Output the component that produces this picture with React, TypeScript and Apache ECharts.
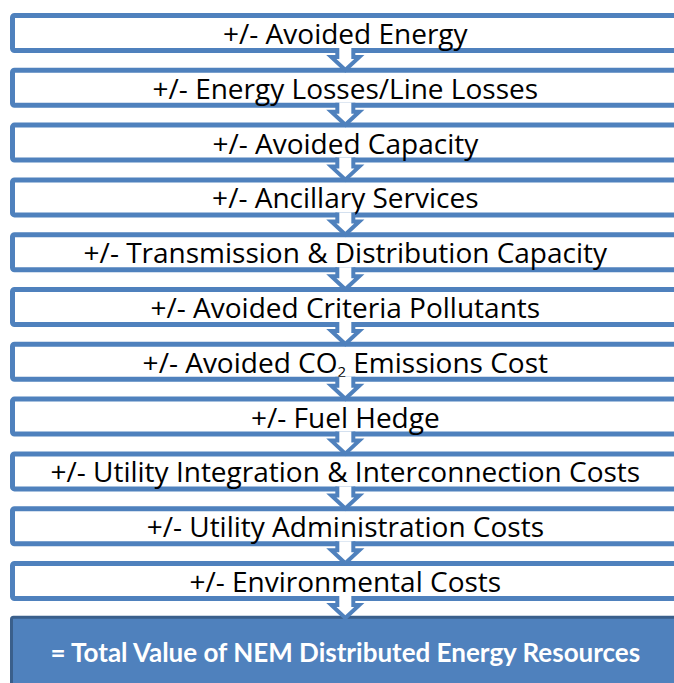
import React, { useEffect, useRef } from "react";
import * as echarts from "echarts";

const stepLabels: string[] = [
  "+/- Avoided Energy",
  "+/- Energy Losses/Line Losses",
  "+/- Avoided Capacity",
  "+/- Ancillary Services",
  "+/- Transmission & Distribution Capacity",
  "+/- Avoided Criteria Pollutants",
  "+/- Avoided CO{s|2} Emissions Cost",
  "+/- Fuel Hedge",
  "+/- Utility Integration & Interconnection Costs",
  "+/- Utility Administration Costs",
  "+/- Environmental Costs",
];
const totalLabel: string = "= Total Value of NEM Distributed Energy Resources";
const allLabels: string[] = [...stepLabels, totalLabel];
const rowIndex: number[] = allLabels.map((_, i) => i);

const BLUE = "#4f81bd";
const DARK = "#3a5f8b";
const FONT = "'Open Sans', Lato, sans-serif";
const BOLD_FONT = "Lato, 'Open Sans', sans-serif";

export default function App() {
  const ref = useRef<HTMLDivElement>(null);
  useEffect(() => {
    if (!ref.current) return;
    const chart = echarts.init(ref.current, undefined, { renderer: "svg" });
    const nSteps = stepLabels.length;
    chart.setOption({
      animation: false,
      backgroundColor: "#ffffff",
      grid: { left: 10, top: 13, right: 0, height: 657.6 },
      xAxis: { type: "value", min: 0, max: 1, show: false },
      yAxis: { type: "value", min: 0, max: 12, inverse: true, show: false },
      series: [
        {
          type: "custom",
          data: rowIndex.map((i) => [i]),
          encode: { x: -1, y: 0 },
          clip: false,
          renderItem: (params: any, api: any) => {
            const i = api.value(0) as number;
            const tl = api.coord([0, i]);
            const br = api.coord([1.01, i + 1]);
            const x0 = tl[0];
            const y0 = tl[1];
            const w = br[0] - x0;
            const cx = x0 + w / 2;
            const isTotal = i === nSteps;
            const h = isTotal ? 74 : 40;
            const sw = isTotal ? 3 : 5;
            const children: any[] = [
              {
                type: "rect",
                shape: { x: x0 + sw / 2, y: y0 + sw / 2, width: w - sw, height: h - sw, r: 2 },
                style: {
                  fill: isTotal ? BLUE : "#ffffff",
                  stroke: isTotal ? DARK : BLUE,
                  lineWidth: sw,
                },
              },
            ];
            if (i > 0) {
              const yb = api.coord([0, i - 1])[1] + 40;
              const pts = [
                [-8, -5],
                [-8, 4],
                [-14, 4],
                [0, 17],
                [14, 4],
                [8, 4],
                [8, -5],
              ].map((p) => [cx + p[0], yb + p[1]]);
              children.push({
                type: "polygon",
                shape: { points: pts },
                style: { fill: "#ffffff", stroke: "none" },
              });
              children.push({
                type: "polyline",
                shape: { points: pts },
                style: { stroke: BLUE, lineWidth: 4, fill: "none", lineJoin: "miter" },
              });
            }
            children.push({
              type: "text",
              x: cx,
              y: y0 + (isTotal ? 36 : 20),
              style: {
                text: allLabels[i],
                fill: isTotal ? "#ffffff" : "#000000",
                fontFamily: isTotal ? BOLD_FONT : FONT,
                fontSize: isTotal ? 26 : 28,
                fontWeight: isTotal ? "bold" : "normal",
                lineHeight: 34,
                align: "center",
                verticalAlign: "middle",
                rich: {
                  s: {
                    fontFamily: FONT,
                    fontSize: 15,
                    lineHeight: 15,
                    fill: "#000000",
                    padding: [18, 0, 0, 0],
                    verticalAlign: "middle",
                  },
                },
              },
            });
            return { type: "group", children };
          },
        },
      ],
    });
    return () => chart.dispose();
  }, []);
  return (
    <div
      ref={ref}
      style={{ position: "fixed", left: 0, top: 0, width: 674, height: 683 }}
    />
  );
}
